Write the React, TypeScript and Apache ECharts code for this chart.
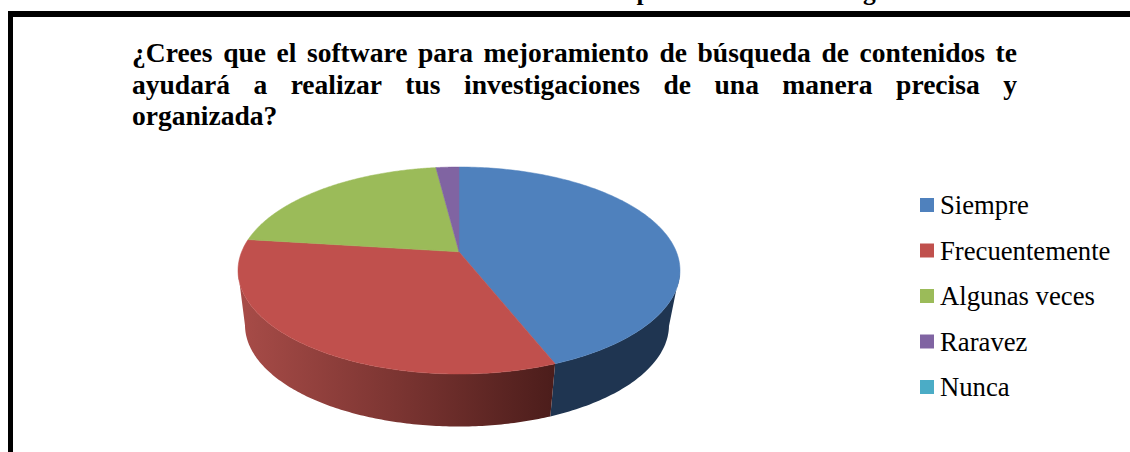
import React, { useEffect, useRef } from "react";
import * as echarts from "echarts";

const categories = ["Siempre", "Frecuentemente", "Algunas veces", "Raravez", "Nunca"];
const values = [44, 33, 21, 2, 0];
const topColors = ["#4f81bd", "#c0504d", "#9bbb59", "#8064a2", "#4bacc6"];
const titleLines = [
  "¿Crees que el software para mejoramiento de búsqueda de contenidos te",
  "ayudará a realizar tus investigaciones de una manera precisa y",
];
const titleLastLine = "organizada?";
const clippedCaption = "GRÁFICO Nº 14: Creación de un software para consultas bibliográficas";

const W = 1130;
const H = 452;
const FONT = '"Liberation Serif"';
const TITLE_SIZE = 26.5;
const TITLE_STRETCH = 1.04;
const CAPTION_SIZE = 25.5;

// top and bottom rims of the disc, and the perspective shift of its centre
const topRim = { cx: 459, cy: 270.5, rxL: 221, rxR: 221, ry: 103.5 };
const bottomRim = { cx: 459, cy: 325, rxL: 214, rxR: 210, ry: 101.5 };
const k = -0.18;
const total = values.reduce((a, b) => a + b, 0);

function project(theta: number, rim: typeof topRim) {
  const u = Math.sin(theta);
  const v = -Math.cos(theta);
  const d = 1 + k * v;
  const rx = u < 0 ? rim.rxL : rim.rxR;
  return {
    x: rim.cx + (rx * u * Math.sqrt(1 - k * k)) / d,
    y: rim.cy + (rim.ry * (v + k)) / d,
    front: (v + k) / d >= -0.002,
  };
}

function renderSlice(index: number) {
  return (_params: any, api: any) => {
    const value = api.value(0);
    if (!value) return { type: "group", children: [] };
    let before = 0;
    for (let i = 0; i < index; i++) before += values[i];
    const a0 = (before / total) * Math.PI * 2;
    const a1 = ((before + value) / total) * Math.PI * 2;
    const steps = 160;
    const topPts: number[][] = [];
    const side: { t: number[]; b: number[] }[] = [];
    for (let i = 0; i <= steps; i++) {
      const th = a0 + ((a1 - a0) * i) / steps;
      const p = project(th, topRim);
      topPts.push([p.x, p.y]);
      if (p.front) {
        const q = project(th, bottomRim);
        side.push({ t: [p.x, p.y], b: [q.x, q.y] });
      }
    }
    const apex = [topRim.cx, topRim.cy + topRim.ry * k];
    const children: any[] = [];
    if (side.length > 1) {
      const pts = side.map((s) => s.t).concat(side.map((s) => s.b).reverse());
      const fill =
        index === 1
          ? {
              type: "linear",
              global: true,
              x: 238,
              y: 0,
              x2: 553,
              y2: 0,
              colorStops: [
                { offset: 0, color: "#a84c48" },
                { offset: 0.5, color: "#7c3532" },
                { offset: 1, color: "#4c1d1b" },
              ],
            }
          : "#1f3551";
      children.push({ type: "polygon", shape: { points: pts }, style: { fill } });
    }
    children.push({
      type: "polygon",
      shape: { points: [apex, ...topPts] },
      style: { fill: topColors[index], stroke: topColors[index], lineWidth: 0.5 },
    });
    return { type: "group", children };
  };
}

function titleText(text: string, x: number, y: number) {
  return {
    type: "text",
    x,
    y,
    scaleX: TITLE_STRETCH,
    style: {
      text,
      fill: "#000",
      font: `bold ${TITLE_SIZE}px ${FONT}`,
      verticalAlign: "middle",
      align: "left",
    },
  };
}

function justified(line: string, x0: number, x1: number, y: number) {
  const ctx = document.createElement("canvas").getContext("2d") as CanvasRenderingContext2D;
  ctx.font = `bold ${TITLE_SIZE}px ${FONT}`;
  const words = line.split(" ");
  const widths = words.map((w) => ctx.measureText(w).width * TITLE_STRETCH);
  const gap = (x1 - x0 - widths.reduce((a, b) => a + b, 0)) / (words.length - 1);
  let x = x0;
  return words.map((w, i) => {
    const el = titleText(w, x, y);
    x += widths[i] + gap;
    return el;
  });
}

export default function App() {
  const ref = useRef<HTMLDivElement>(null);
  useEffect(() => {
    document.body.style.margin = "0";
    const chart = echarts.init(ref.current as HTMLDivElement, undefined, { renderer: "svg" });
    chart.setOption({
      animation: false,
      backgroundColor: "#fff",
      legend: {
        orient: "vertical",
        left: 915,
        top: 185,
        itemWidth: 14,
        itemHeight: 14,
        itemGap: 15.5,
        icon: "rect",
        data: categories,
        textStyle: { fontFamily: FONT, fontSize: 26.7, color: "#000", lineHeight: 30, padding: [0, 0, 0, 1] },
      },
      graphic: [
        { type: "rect", shape: { x: 8, y: 11, width: W - 8, height: 6 }, style: { fill: "#000" } },
        { type: "rect", shape: { x: 8, y: 11, width: 5, height: H - 11 }, style: { fill: "#000" } },
        {
          type: "text",
          x: 165,
          y: -8.5,
          style: { text: clippedCaption, fill: "#000", font: `bold ${CAPTION_SIZE}px ${FONT}`, verticalAlign: "middle" },
        },
        ...justified(titleLines[0], 132, 1017, 53),
        ...justified(titleLines[1], 132, 1017, 85),
        titleText(titleLastLine, 132, 116),
      ],
      series: categories.map((name, i) => ({
        type: "custom",
        name,
        coordinateSystem: "none",
        silent: true,
        clip: false,
        itemStyle: { color: topColors[i] },
        renderItem: renderSlice(i),
        data: [[values[i]]],
      })),
    });
    return () => chart.dispose();
  }, []);
  return <div ref={ref} style={{ width: W, height: H }} />;
}
